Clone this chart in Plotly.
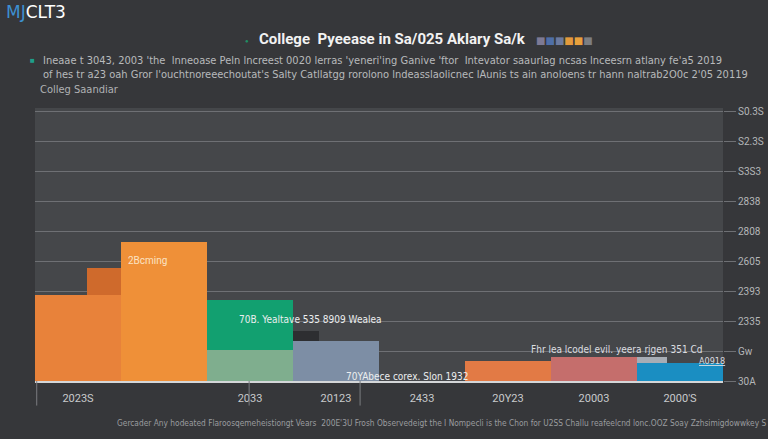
import plotly.graph_objects as go

# ---- data ----
periods = ["P1", "P2", "P3", "P4", "P5", "P6", "P7", "P8"]
x_labels = ["2023S", "", "2033", "20123", "2433", "20Y23", "20003", "2000'S"]
base_values = [2.88, 4.65, 1.04, 1.34, 0.0, 0.67, 0.80, 0.60]
upper_values = [0.90, 0.0, 1.67, 0.33, 0.0, 0.0, 0.0, 0.20]
y_ticks = [0, 1, 2, 3, 4, 5, 6, 7, 8, 9]
y_labels = ["30A", "Gw", "2335", "2393", "2605", "2808", "2838", "S3S3", "S2.3S", "S0.3S"]

base_colors = ["#e8823a", "#ef9038", "#7fae8e", "#7d8ea5", "#45474a",
               "#e27a45", "#c56e6c", "#1a8ec2"]
upper_colors = ["#cf6a2c", "#ef9038", "#12a070", "#2d2e31", "#45474a",
                "#e27a45", "#c56e6c", "#a7adb5"]
upper_width = [0.4, 1, 1, 0.3, 1, 1, 1, 0.35]
upper_offset = [0.1, -0.5, -0.5, -0.5, -0.5, -0.5, -0.5, -0.5]

PAPER = "#36373a"
PLOT = "#45474a"
GRID = "#6e7074"
FONT = "Roboto"
COND = "DejaVu Sans Condensed"

fig = go.Figure()
fig.add_trace(go.Bar(x=periods, y=base_values, marker=dict(color=base_colors, line_width=0),
                     hoverinfo="y"))
fig.add_trace(go.Bar(x=periods, y=upper_values, width=upper_width, offset=upper_offset,
                     marker=dict(color=upper_colors, line_width=0), hoverinfo="y"))

fig.update_layout(
    width=768, height=439,
    margin=dict(l=35, r=45, t=108, b=58),
    paper_bgcolor=PAPER, plot_bgcolor=PLOT,
    barmode="stack", bargap=0, showlegend=False,
    font=dict(family=FONT, color="#c8c8c8"),
)
fig.update_xaxes(
    type="category", tickmode="array", tickvals=periods, ticktext=x_labels,
    showgrid=False, showline=True, linecolor="#d4d6d8", linewidth=1.5,
    ticks="outside", ticklen=6, tickcolor="rgba(0,0,0,0)",
    tickfont=dict(size=11, color="#c8cacc"), range=[-0.5, 7.5],
)
fig.update_yaxes(
    side="right", range=[0, 9.13], tickmode="array", tickvals=y_ticks, ticktext=y_labels,
    showgrid=True, gridcolor=GRID, gridwidth=1, zeroline=False,
    ticks="outside", ticklen=12, tickcolor=GRID,
    tickfont=dict(size=10, color="#b4b6b8"), automargin=False,
)

# divider lines under the axis
for xv in [-0.48, 1.99, 3.28]:
    fig.add_shape(type="line", xref="x", yref="paper", x0=xv, x1=xv, y0=0, y1=-0.09,
                  line=dict(color="#7a7c80", width=1))

def px_x(p):
    return (p - 35) / 688.0

def px_y(p):
    return (381 - p) / 273.0

ann = []
# logo
ann.append(dict(x=px_x(4), y=px_y(12), xanchor="left", yanchor="middle",
                text="<span style='color:#3d8fd0'>MJ</span>CLT3",
                font=dict(size=17, color="#ffffff", family="DejaVu Sans")))
# title
ann.append(dict(x=px_x(392), y=px_y(39), xanchor="center", yanchor="middle",
                text="<b>College  Pyeease in Sa/025 Aklary Sa/k</b>",
                font=dict(size=15, color="#f2f2f2", family=FONT)))
ann.append(dict(x=px_x(247), y=px_y(40), xanchor="center", yanchor="middle",
                text="●", font=dict(size=6, color="#1f8f64")))
ann.append(dict(x=px_x(534), y=px_y(40), xanchor="left", yanchor="middle",
                text="<span style='color:#7d7a95'>■</span><span style='color:#4f6fa8'>■</span>"
                     "<span style='color:#6d7ba0'>■</span><span style='color:#e49a3c'>■</span>"
                     "<span style='color:#e9a13d'>■</span><span style='color:#7c7e82'>■</span>",
                font=dict(size=10, family="DejaVu Sans")))
# subtitle
ann.append(dict(x=px_x(28), y=px_y(61), xanchor="left", yanchor="middle",
                text="<span style='color:#1e9e8a'>■</span>", font=dict(size=8)))
ann.append(dict(x=px_x(41), y=px_y(61), xanchor="left", yanchor="middle",
                text="Ineaae t 3043, 2003 'the  lnneoase Peln lncreest 0020 lerras 'yeneri'ing Ganive 'ftor  Intevator saaurlag ncsas lnceesrn atlany fe'a5 2019",
                font=dict(size=11, color="#b8babc", family=COND)))
ann.append(dict(x=px_x(41), y=px_y(74), xanchor="left", yanchor="middle",
                text="of hes tr a23 oah Gror l'ouchtnoreeechoutat's Salty Catllatgg rorolono lndeasslaolicnec lAunis ts ain anoloens tr hann naltrab2O0c 2'05 20119",
                font=dict(size=11, color="#b8babc", family=COND)))
ann.append(dict(x=px_x(38), y=px_y(89), xanchor="left", yanchor="middle",
                text="Colleg Saandiar",
                font=dict(size=11, color="#b0b2b4", family=COND)))
# in-chart labels
ann.append(dict(x=px_x(126), y=px_y(260), xanchor="left", yanchor="middle",
                text="2Bcming", font=dict(size=10, color="#fbe3c4", family=FONT)))
ann.append(dict(x=px_x(237), y=px_y(319), xanchor="left", yanchor="middle",
                text="70B. Yealtave 535 8909 Wealea",
                font=dict(size=10, color="#eceeef", family=COND)))
ann.append(dict(x=px_x(344), y=px_y(376), xanchor="left", yanchor="middle",
                text="70YAbece corex. Slon 1932",
                font=dict(size=10, color="#eceeef", family=COND)))
ann.append(dict(x=px_x(529), y=px_y(349), xanchor="left", yanchor="middle",
                text="Fhr lea lcodel evil. yeera rjgen 351 Cd",
                font=dict(size=10, color="#dcdee0", family=COND)))
ann.append(dict(x=px_x(697), y=px_y(361), xanchor="left", yanchor="middle",
                text="<u>A0918</u>",
                font=dict(size=9, color="#dcdee0", family=COND)))
# footer
ann.append(dict(x=px_x(115), y=px_y(423), xanchor="left", yanchor="middle",
                text="Gercader Any hodeated Flaroosqemeheistiongt Vears  200E'3U Frosh Observedeigt the I Nompecli is the Chon for U2SS Challu reafeelcnd lonc.OOZ Soay Zzhsimigdowwkey S",
                font=dict(size=8.3, color="#9a9c9f", family=COND)))

for a in ann:
    a.update(xref="paper", yref="paper", showarrow=False)
fig.update_layout(annotations=ann)

fig.write_html(
    "out.html",
    config={"displayModeBar": False},
    post_script="document.body.style.margin='0px';document.body.style.background='#36373a';",
)
